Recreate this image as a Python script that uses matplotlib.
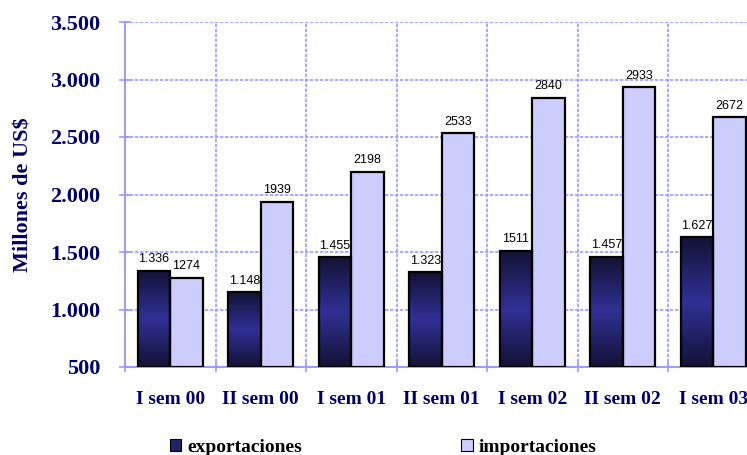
import numpy as np
import matplotlib.pyplot as plt
from matplotlib.colors import LinearSegmentedColormap
from matplotlib.patches import Patch

# semester data, millions of US$
semestres = ['I sem 00', 'II sem 00', 'I sem 01', 'II sem 01', 'I sem 02', 'II sem 02', 'I sem 03']
exportaciones = [1336, 1148, 1455, 1323, 1511, 1457, 1627]
importaciones = [1274, 1939, 2198, 2533, 2840, 2933, 2672]
etiq_export = ['1.336', '1.148', '1.455', '1.323', '1511', '1.457', '1.627']
etiq_import = ['1274', '1939', '2198', '2533', '2840', '2933', '2672']
yticks = [500, 1000, 1500, 2000, 2500, 3000, 3500]
ylabels = ['500', '1.000', '1.500', '2.000', '2.500', '3.000', '3.500']

navy = '#000066'
grid_blue = '#9a9aff'
light = '#ccccff'
serif = 'Liberation Serif'

fig = plt.figure(figsize=(7.47, 4.55), dpi=100)
ax = fig.add_axes([125 / 747, 88 / 455, 633.5 / 747, 345 / 455])

ymin = 500
x = np.arange(len(semestres))
w = 0.36

# dark bars: vertical gradient, darker at top and bottom
cmap = LinearSegmentedColormap.from_list('navy_grad', ['#121236', '#303096', '#121236'])
grad = np.linspace(0, 1, 64).reshape(-1, 1)
bars_e = ax.bar(x - w / 2, np.array(exportaciones) - ymin, w, bottom=ymin,
                facecolor='none', edgecolor='black', linewidth=1.6, zorder=4)
for b in bars_e:
    x0, y0 = b.get_x(), b.get_y()
    ax.imshow(grad, cmap=cmap, aspect='auto', zorder=3,
              extent=[x0, x0 + b.get_width(), y0, y0 + b.get_height()])

bars_i = ax.bar(x + w / 2, np.array(importaciones) - ymin, w, bottom=ymin,
                color=light, edgecolor='black', linewidth=1.6, zorder=3)

for b, t in zip(bars_e, etiq_export):
    ax.annotate(t, (b.get_x() + b.get_width() / 2, b.get_y() + b.get_height()),
                xytext=(0, 4), textcoords='offset points', ha='center', va='bottom',
                fontsize=9, family='Liberation Sans', zorder=5)
for b, t in zip(bars_i, etiq_import):
    ax.annotate(t, (b.get_x() + b.get_width() / 2, b.get_y() + b.get_height()),
                xytext=(0, 4), textcoords='offset points', ha='center', va='bottom',
                fontsize=9, family='Liberation Sans', zorder=5)

ax.set_xlim(-0.5, len(semestres) - 0.5)
ax.set_ylim(500, 3500)

ax.set_yticks(yticks)
ax.set_yticklabels(ylabels, fontsize=16, fontweight='bold', family=serif, color=navy)
ax.set_xticks(x)
ax.set_xticklabels(semestres, fontsize=14, fontweight='bold', family=serif, color=navy)
ax.set_xticks(np.arange(-0.5, len(semestres)), minor=True)

ax.tick_params(axis='x', which='major', length=0, pad=17)
ax.tick_params(axis='x', which='minor', length=7, direction='inout', color=grid_blue, width=1.2)
ax.tick_params(axis='y', length=8, direction='inout', color=grid_blue, width=1.2, pad=14)

ax.grid(True, axis='y', which='major', color=grid_blue, linestyle=(0, (2, 1)), linewidth=1.2, zorder=1)
ax.grid(True, axis='x', which='minor', color=grid_blue, linestyle=(0, (2, 1)), linewidth=1.2, zorder=1)
ax.set_axisbelow(True)
for side in ['top', 'right']:
    ax.spines[side].set_visible(False)
for side in ['left', 'bottom']:
    ax.spines[side].set_color(grid_blue)
    ax.spines[side].set_linestyle((0, (2, 1)))
    ax.spines[side].set_linewidth(1.4)

ax.set_ylabel('Millones de US$', fontsize=16, fontweight='bold', family=serif, color=navy, labelpad=12)

handles = [Patch(facecolor='#22226a', edgecolor='black', linewidth=0.8),
           Patch(facecolor=light, edgecolor='black', linewidth=0.8)]
fig.legend(handles, ['exportaciones', 'importaciones'], loc='lower left',
           bbox_to_anchor=(152 / 747, -0.04), ncol=2, frameon=False,
           columnspacing=8.2, handlelength=0.6, handleheight=0.6, handletextpad=0.3,
           prop={'family': serif, 'weight': 'bold', 'size': 14})

fig.savefig('out.png', dpi=100)
